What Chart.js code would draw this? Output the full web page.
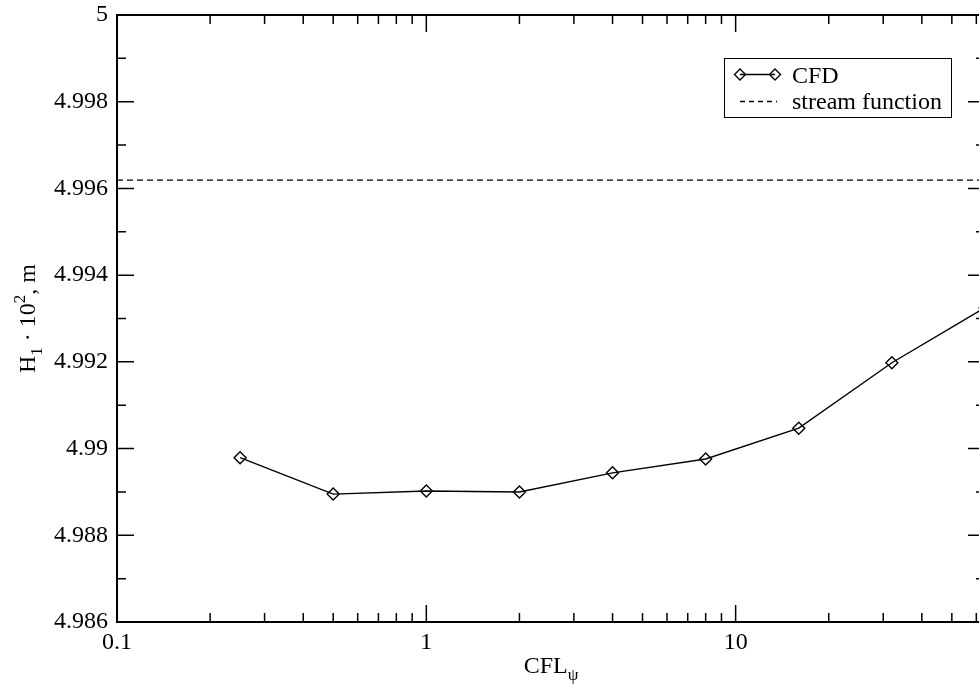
<!DOCTYPE html>
<html>
<head>
<meta charset="utf-8">
<script src="https://cdn.jsdelivr.net/npm/chart.js@4.4.1/dist/chart.umd.min.js"></script>
<style>
  html, body { margin: 0; padding: 0; background: #fff; overflow: hidden; }
  #wrap { width: 979px; height: 692px; overflow: hidden; }
</style>
</head>
<body>
<div id="wrap"><canvas id="chart" width="995" height="692"></canvas></div>
<script>
// CFL values and H1 results
const cflValues = [0.25, 0.5, 1, 2, 4, 8, 16, 32, 64];
const cfdValues = [4.98979, 4.98895, 4.98902, 4.98900, 4.98944, 4.98976, 4.99047, 4.99198, 4.99325];
const streamX = [0.1, 64];
const streamValues = [4.99619, 4.99619];

// axis ticks
const xMajor = [0.1, 1, 10];
const xMajorLabels = ["0.1", "1", "10"];
const xMinor = [0.2, 0.3, 0.4, 0.5, 0.6, 0.7, 0.8, 0.9, 2, 3, 4, 5, 6, 7, 8, 9, 20, 30, 40, 50, 60];
const yMajor = [4.986, 4.988, 4.99, 4.992, 4.994, 4.996, 4.998, 5];
const yMajorLabels = ["4.986", "4.988", "4.99", "4.992", "4.994", "4.996", "4.998", "5"];
const yMinor = [4.987, 4.989, 4.991, 4.993, 4.995, 4.997, 4.999];

const FONT = '"Liberation Serif", "Times New Roman", serif';

// draw a string made of normal / sub / super parts, returns width
function richText(ctx, parts, x, y, measureOnly) {
  let w = 0;
  parts.forEach(p => {
    const size = p.mode ? 17 : 24;
    ctx.font = size + 'px ' + FONT;
    let dy = 0;
    if (p.mode === 'sub') dy = 7;
    if (p.mode === 'sup') dy = -10;
    if (!measureOnly) ctx.fillText(p.t, x + w, y + dy);
    w += ctx.measureText(p.t).width;
  });
  return w;
}

function diamond(ctx, x, y, r) {
  ctx.beginPath();
  ctx.moveTo(x - r, y);
  ctx.lineTo(x, y - r);
  ctx.lineTo(x + r, y);
  ctx.lineTo(x, y + r);
  ctx.closePath();
  ctx.stroke();
}

const framePlugin = {
  id: 'frame',
  afterDraw(chart) {
    const ctx = chart.ctx;
    const a = chart.chartArea;
    const xs = chart.scales.x, ys = chart.scales.y;
    ctx.save();
    ctx.strokeStyle = '#000';
    ctx.fillStyle = '#000';

    // ticks pointing inward, on all four sides
    ctx.lineWidth = 1.5;
    const tick = (v, len) => {
      const px = xs.getPixelForValue(v);
      ctx.beginPath();
      ctx.moveTo(px, a.bottom); ctx.lineTo(px, a.bottom - len);
      ctx.moveTo(px, a.top); ctx.lineTo(px, a.top + len);
      ctx.stroke();
    };
    const ytick = (v, len) => {
      const py = ys.getPixelForValue(v);
      ctx.beginPath();
      ctx.moveTo(a.left, py); ctx.lineTo(a.left + len, py);
      ctx.moveTo(a.right, py); ctx.lineTo(a.right - len, py);
      ctx.stroke();
    };
    xMajor.forEach(v => tick(v, 17));
    xMinor.forEach(v => tick(v, 9));
    yMajor.forEach(v => ytick(v, 17));
    yMinor.forEach(v => ytick(v, 9));

    // frame
    ctx.lineWidth = 2;
    ctx.strokeRect(a.left, a.top, a.right - a.left, a.bottom - a.top);

    // x title
    ctx.textBaseline = 'alphabetic';
    ctx.textAlign = 'left';
    const xParts = [{ t: 'CFL' }, { t: 'ψ', mode: 'sub' }];
    const xw = richText(ctx, xParts, 0, 0, true);
    richText(ctx, xParts, (a.left + a.right) / 2 - xw / 2, 673);

    // y title, rotated
    const yParts = [{ t: 'H' }, { t: '1', mode: 'sub' }, { t: ' · 10' }, { t: '2', mode: 'sup' }, { t: ', m' }];
    const yw = richText(ctx, yParts, 0, 0, true);
    ctx.save();
    ctx.translate(35, (a.top + a.bottom) / 2 + yw / 2);
    ctx.rotate(-Math.PI / 2);
    richText(ctx, yParts, 0, 0);
    ctx.restore();

    // legend
    ctx.fillStyle = '#fff';
    ctx.fillRect(724, 58, 228, 60);
    ctx.lineWidth = 1;
    ctx.strokeRect(724.5, 58.5, 227, 59);
    ctx.fillStyle = '#000';
    ctx.lineWidth = 1.4;
    ctx.beginPath();
    ctx.moveTo(740, 74.5); ctx.lineTo(775, 74.5);
    ctx.stroke();
    diamond(ctx, 740, 74.5, 5.5);
    diamond(ctx, 775, 74.5, 5.5);
    ctx.setLineDash([5, 4]);
    ctx.beginPath();
    ctx.moveTo(740, 101.5); ctx.lineTo(777, 101.5);
    ctx.stroke();
    ctx.setLineDash([]);
    ctx.font = '24px ' + FONT;
    ctx.fillText('CFD', 792, 83);
    ctx.fillText('stream function', 792, 109);
    ctx.restore();
  }
};

new Chart(document.getElementById('chart'), {
  type: 'line',
  data: {
    datasets: [
      {
        label: 'CFD',
        data: cflValues.map((x, i) => ({ x: x, y: cfdValues[i] })),
        borderColor: '#000',
        borderWidth: 1.4,
        backgroundColor: 'rgba(0,0,0,0)',
        pointStyle: 'rectRot',
        pointRadius: 6,
        pointBorderWidth: 1.4,
        pointBorderColor: '#000',
        pointBackgroundColor: 'rgba(0,0,0,0)',
        tension: 0
      },
      {
        label: 'stream function',
        data: streamX.map((x, i) => ({ x: x, y: streamValues[i] })),
        borderColor: '#000',
        borderWidth: 1.2,
        borderDash: [6, 4],
        pointRadius: 0,
        tension: 0
      }
    ]
  },
  options: {
    responsive: false,
    animation: false,
    layout: { padding: { top: 15, right: 10, left: 0, bottom: 0 } },
    plugins: {
      legend: { display: false },
      tooltip: { enabled: false },
      title: { display: false }
    },
    scales: {
      x: {
        type: 'logarithmic',
        min: 0.1,
        max: 64,
        grid: { display: false, drawTicks: false },
        border: { display: false },
        afterBuildTicks: s => { s.ticks = xMajor.map(v => ({ value: v })); },
        afterFit: s => { s.height = 70; s.paddingRight = 0; },
        ticks: {
          padding: 6,
          maxRotation: 0,
          autoSkip: false,
          color: '#000',
          font: { family: FONT, size: 24 },
          callback: (v) => {
            const i = xMajor.indexOf(v);
            return i >= 0 ? xMajorLabels[i] : '';
          }
        }
      },
      y: {
        min: 4.986,
        max: 5,
        grid: { display: false, drawTicks: false },
        border: { display: false },
        afterBuildTicks: s => { s.ticks = yMajor.map(v => ({ value: v })); },
        afterFit: s => { s.width = 117; s.paddingTop = 0; s.paddingBottom = 0; },
        ticks: {
          padding: 9,
          autoSkip: false,
          color: '#000',
          font: { family: FONT, size: 24 },
          callback: (v, i) => yMajorLabels[i]
        }
      }
    }
  },
  plugins: [framePlugin]
});
</script>
</body>
</html>
